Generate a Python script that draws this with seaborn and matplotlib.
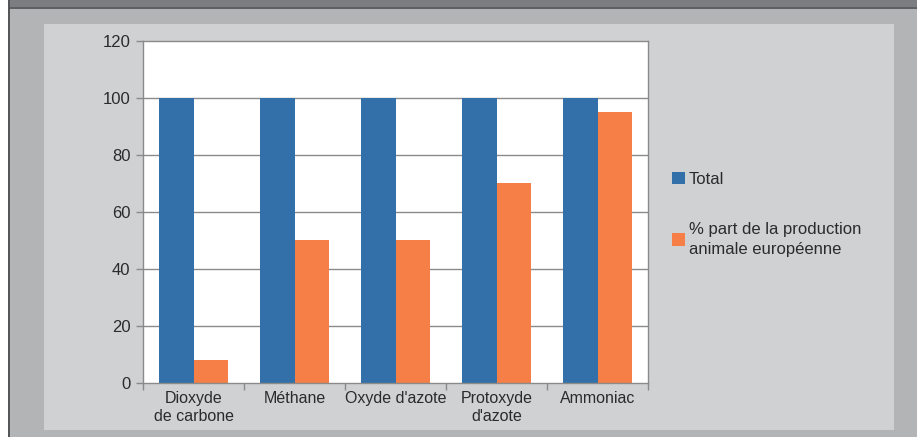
import matplotlib
matplotlib.use("Agg")
import matplotlib.pyplot as plt
from matplotlib.patches import Rectangle
import pandas as pd
import seaborn as sns

categories = ["Dioxyde\nde carbone", "Méthane", "Oxyde d'azote", "Protoxyde\nd'azote", "Ammoniac"]
total = [100, 100, 100, 100, 100]
part_animale = [8, 50, 50, 70, 95]
series_names = ["Total", "% part de la production\nanimale européenne"]
y_ticks = [0, 20, 40, 60, 80, 100, 120]

df = pd.DataFrame({
    "cat": categories * 2,
    "val": total + part_animale,
    "series": [series_names[0]] * len(categories) + [series_names[1]] * len(categories),
})

sns.set_theme(style="white")
plt.rcParams["font.family"] = ["Liberation Sans", "DejaVu Sans"]

W, H = 917, 437
fig = plt.figure(figsize=(W / 100, H / 100), dpi=100)
fig.patch.set_facecolor("#b3b4b6")


def frame_rect(x0, y0, x1, y1, color):
    fig.patches.append(Rectangle((x0 / W, 1 - y1 / H), (x1 - x0) / W, (y1 - y0) / H,
                                 transform=fig.transFigure, facecolor=color,
                                 edgecolor="none", zorder=-5))


# frame decorations: white margin, left border, top strip, inner panel
frame_rect(0, 0, 8, H, "white")
frame_rect(8, 0, 10, H, "#555658")
frame_rect(10, 0, W, 7, "#7c7d80")
frame_rect(10, 7, W, 8.5, "#5f6063")
frame_rect(44, 24, 894, 430, "#d0d1d3")

ax = fig.add_axes([143 / W, 1 - 383 / H, (648 - 143) / W, (383 - 41) / H])
ax.set_facecolor("white")

sns.barplot(data=df, x="cat", y="val", hue="series", ax=ax,
            palette=["#336fa9", "#f57f46"], saturation=1, width=0.68,
            gap=0, errorbar=None, linewidth=0)

ax.set_ylim(0, 120)
ax.set_yticks(y_ticks)
ax.set_xlim(-0.5, len(categories) - 0.5)
ax.set_xlabel("")
ax.set_ylabel("")

for y in y_ticks[1:-1]:
    ax.axhline(y, color="#8a8a8a", linewidth=1, zorder=0.5)

for s in ax.spines.values():
    s.set_color("#8a8a8a")
    s.set_linewidth(1)

ax.set_xticks([i - 0.5 for i in range(len(categories) + 1)], minor=True)
ax.tick_params(axis="x", which="major", length=0, labelsize=11.5, labelcolor="#2b2b2b", pad=6)
ax.tick_params(axis="x", which="minor", length=5, color="#8a8a8a", width=1, direction="out", bottom=True)
ax.tick_params(axis="y", length=5, color="#8a8a8a", width=1, direction="out", left=True,
               labelsize=12, labelcolor="#2b2b2b", pad=4)

handles, labels = ax.get_legend_handles_labels()
ax.legend_.remove()
leg = fig.legend(handles, labels, loc="upper left", bbox_to_anchor=(657 / W, 1 - 157 / H),
                 frameon=False, fontsize=12, handlelength=0.75, handleheight=0.75,
                 handletextpad=0.25, labelspacing=2.1, labelcolor="#2b2b2b")
for t in leg.get_texts():
    t.set_linespacing(1.4)

fig.savefig("out.png", dpi=100, facecolor=fig.get_facecolor())
